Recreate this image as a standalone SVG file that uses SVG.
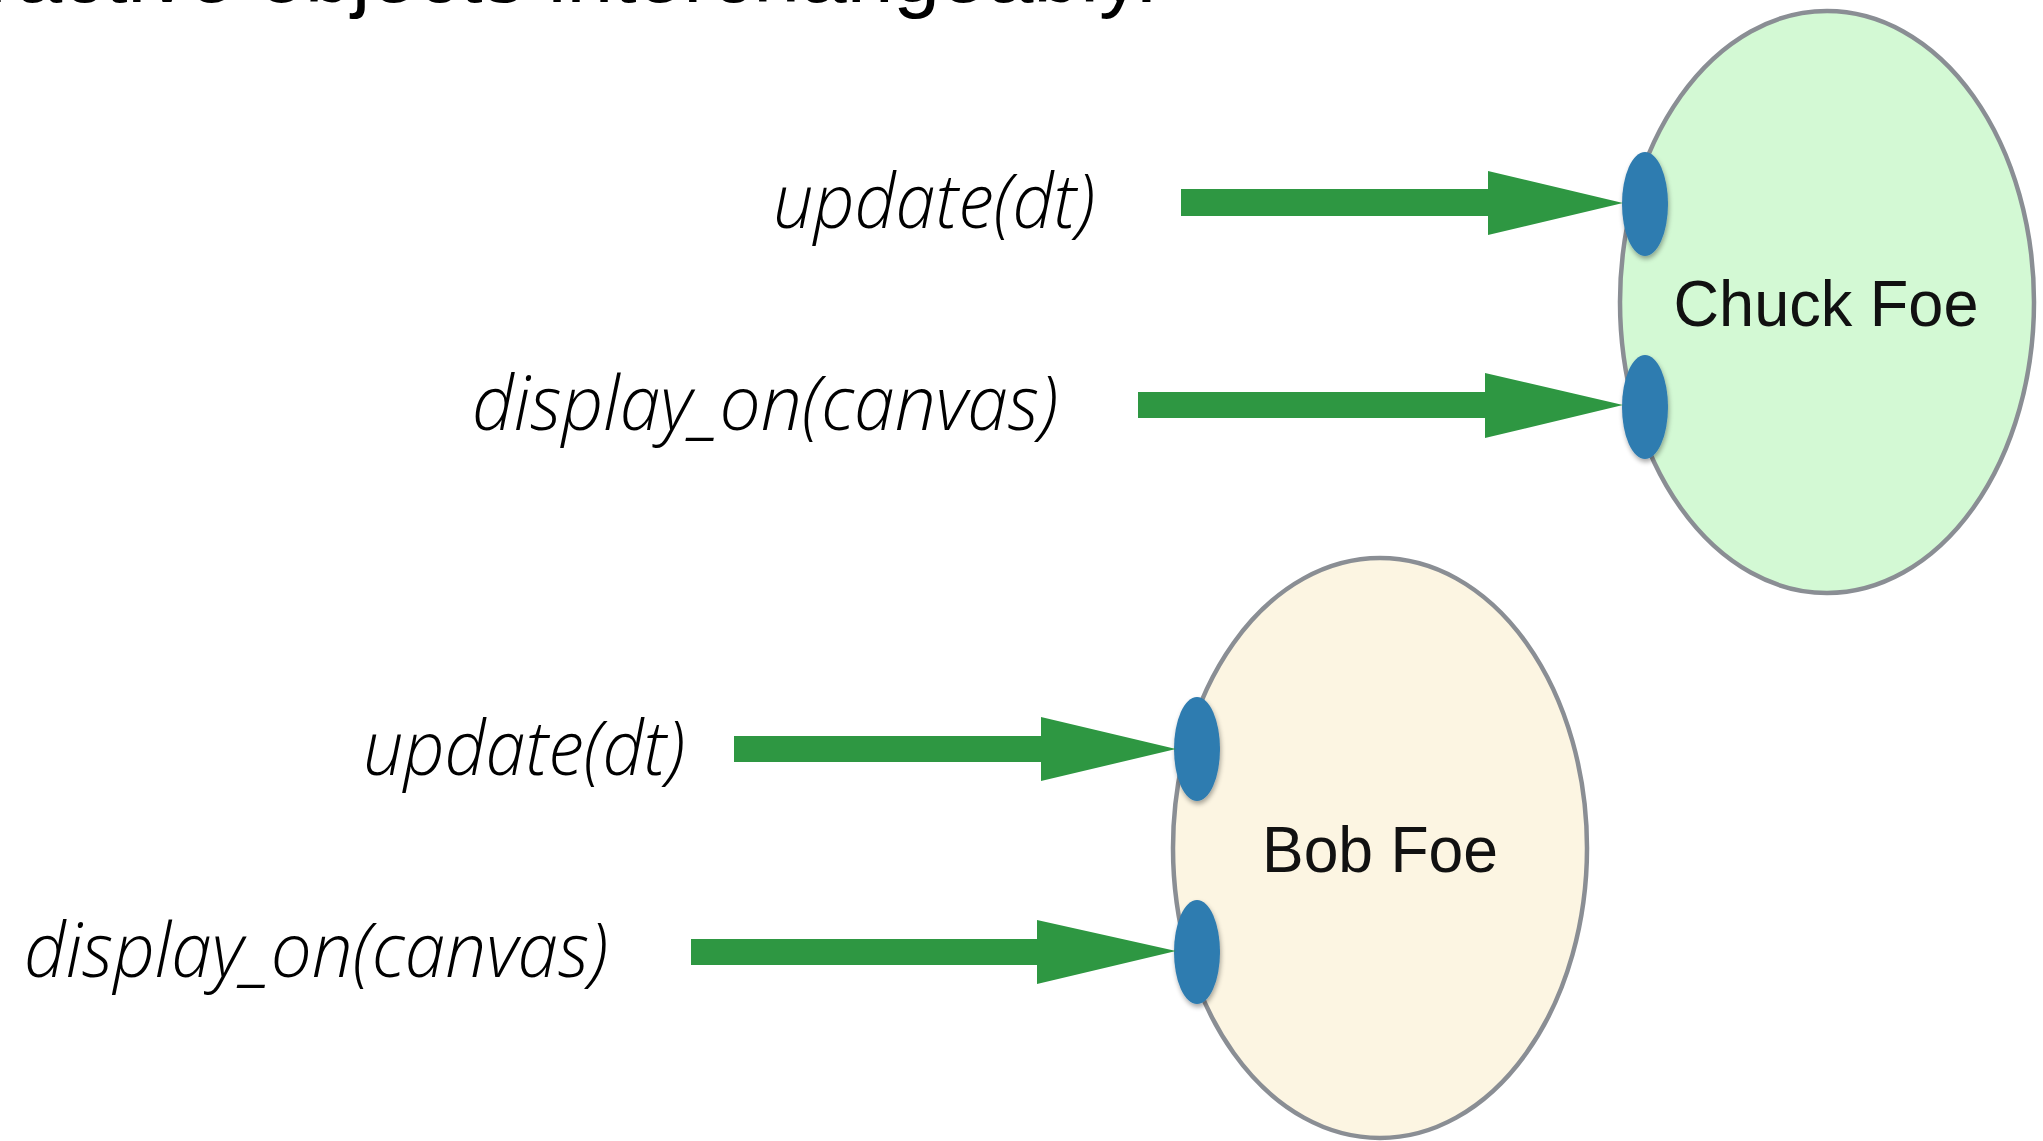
<svg xmlns="http://www.w3.org/2000/svg" width="2043" height="1141" viewBox="0 0 2043 1141">
  <style>
    .title { font-family: "Liberation Sans", Arial, sans-serif; font-size: 84px; fill: #000; }
    .msg { font-family: "Open Sans", "Lato", "Noto Sans", sans-serif; font-style: italic; font-weight: 300; font-size: 76px; fill: #000; }
    .name { font-family: "Liberation Sans", Arial, sans-serif; font-size: 64px; fill: #111; text-anchor: middle; }
    .body { stroke: #8a8e94; stroke-width: 4.5; }
    .port { fill: #2e7bb0; filter: url(#portShadow); }
    .arrow { fill: #2e9742; }
  </style>
  <defs>
    <filter id="portShadow" x="-50%" y="-30%" width="200%" height="160%">
      <feGaussianBlur in="SourceAlpha" stdDeviation="2.5"/>
      <feOffset dx="1" dy="3" result="blur"/>
      <feComponentTransfer><feFuncA type="linear" slope="0.35"/></feComponentTransfer>
      <feMerge><feMergeNode/><feMergeNode in="SourceGraphic"/></feMerge>
    </filter>
  </defs>

  <rect width="2043" height="1141" fill="#ffffff"/>

  <!-- heading line, mostly above the top edge -->
  <text class="title" x="1158" y="1.5" text-anchor="end">interactive objects interchangeably.</text>

  <!-- objects -->
  <g id="chuck-foe">
    <ellipse class="body" cx="1827" cy="302" rx="207" ry="291" fill="#d3f9d4"/>
    <text class="name" x="1826" y="326" textLength="305" lengthAdjust="spacingAndGlyphs">Chuck Foe</text>
    <ellipse class="port" cx="1645" cy="204" rx="23" ry="52"/>
    <ellipse class="port" cx="1645" cy="407" rx="23" ry="52"/>
  </g>

  <g id="bob-foe">
    <ellipse class="body" cx="1380" cy="848" rx="207" ry="290" fill="#fcf5e2"/>
    <text class="name" x="1380" y="872" textLength="236" lengthAdjust="spacingAndGlyphs">Bob Foe</text>
    <ellipse class="port" cx="1197" cy="749" rx="23" ry="52"/>
    <ellipse class="port" cx="1197" cy="952" rx="23" ry="52"/>
  </g>

  <!-- message labels -->
  <g id="labels">
    <text class="msg" x="773" y="228" textLength="322" lengthAdjust="spacingAndGlyphs">update(dt)</text>
    <text class="msg" x="472" y="430" textLength="586" lengthAdjust="spacingAndGlyphs">display_on(canvas)</text>
    <text class="msg" x="363" y="775" textLength="322" lengthAdjust="spacingAndGlyphs">update(dt)</text>
    <text class="msg" x="24" y="977" textLength="584" lengthAdjust="spacingAndGlyphs">display_on(canvas)</text>
  </g>

  <!-- message arrows -->
  <g id="connectors">
    <polygon class="arrow" points="1181,189 1488,189 1488,171 1623,203 1488,235 1488,216 1181,216"/>
    <polygon class="arrow" points="1138,392 1485,392 1485,373 1623,405 1485,438 1485,418 1138,418"/>
    <polygon class="arrow" points="734,736 1041,736 1041,717 1176,749 1041,781 1041,762 734,762"/>
    <polygon class="arrow" points="691,939 1037,939 1037,920 1176,951 1037,984 1037,965 691,965"/>
  </g>
</svg>
